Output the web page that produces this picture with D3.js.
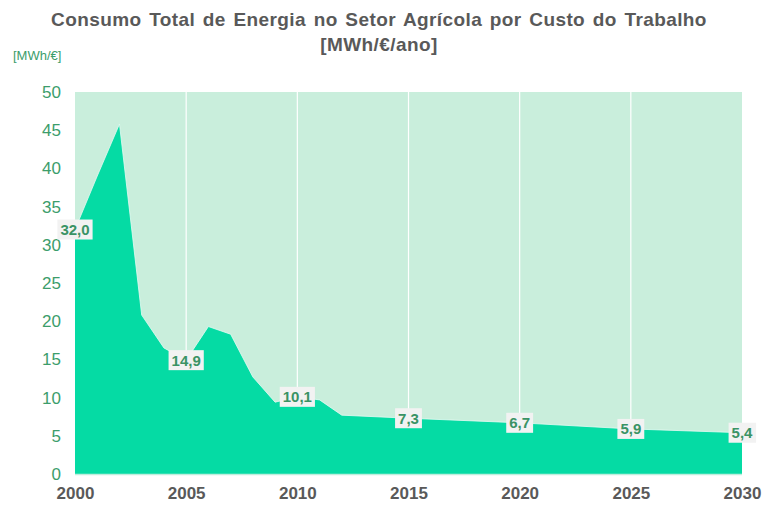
<!DOCTYPE html>
<html>
<head>
<meta charset="utf-8">
<script src="https://cdn.jsdelivr.net/npm/d3@7"></script>
<style>
  body { margin: 0; background: #fff; }
  svg { display: block; font-family: "Liberation Sans", Arial, sans-serif; }
</style>
</head>
<body>
<svg id="chart" width="767" height="505"></svg>
<script>
// Energy use per labour cost in agriculture, MWh/€/year
const years  = [2000, 2001, 2002, 2003, 2004, 2005, 2006, 2007, 2008, 2009, 2010, 2011, 2012, 2015, 2020, 2025, 2030];
const values = [32.0, 39.0, 45.8, 20.8, 16.5, 14.9, 19.3, 18.3, 12.7, 9.4, 10.1, 9.7, 7.7, 7.3, 6.7, 5.9, 5.4];

// Years carrying a value label
const labelYears = [2000, 2005, 2010, 2015, 2020, 2025, 2030];

const xTicks = [2000, 2005, 2010, 2015, 2020, 2025, 2030];
const yTicks = [0, 5, 10, 15, 20, 25, 30, 35, 40, 45, 50];

const titleLines = ["Consumo Total de Energia no Setor Agrícola por Custo do Trabalho", "[MWh/€/ano]"];
const unitLabel = "[MWh/€]";

const svg = d3.select("#chart");
const margin = { left: 75, right: 25, top: 92, bottom: 31 };
const W = 767, H = 505;

const x = d3.scaleLinear().domain([2000, 2030]).range([margin.left, W - margin.right]);
const y = d3.scaleLinear().domain([0, 50]).range([H - margin.bottom, margin.top]);

const fmt = v => v.toFixed(1).replace(".", ",");
const data = years.map((yr, i) => ({ yr, v: values[i] }));

// plot background
svg.append("rect")
  .attr("x", x(2000)).attr("y", y(50))
  .attr("width", x(2030) - x(2000)).attr("height", y(0) - y(50))
  .attr("fill", "#c9eedc");

// vertical gridlines
svg.append("g").selectAll("line")
  .data(xTicks.slice(1, -1))
  .join("line")
  .attr("x1", d => x(d)).attr("x2", d => x(d))
  .attr("y1", y(50)).attr("y2", y(0))
  .attr("stroke", "#ffffff").attr("stroke-width", 1.2);

// area
const area = d3.area().x(d => x(d.yr)).y0(y(0)).y1(d => y(d.v));
svg.append("path").datum(data)
  .attr("d", area)
  .attr("fill", "#05dba4");
svg.append("path").datum(data)
  .attr("d", d3.line().x(d => x(d.yr)).y(d => y(d.v)))
  .attr("fill", "none")
  .attr("stroke", "#e6faf2").attr("stroke-width", 1).attr("stroke-opacity", 0.8);

// baseline
svg.append("line")
  .attr("x1", x(2000)).attr("x2", x(2030))
  .attr("y1", y(0) + 0.5).attr("y2", y(0) + 0.5)
  .attr("stroke", "#bfeedd").attr("stroke-width", 1.5);

// y axis
const yAxis = svg.append("g")
  .attr("transform", `translate(${x(2000)},0)`)
  .call(d3.axisLeft(y).tickValues(yTicks).tickSize(0).tickPadding(14));
yAxis.select(".domain").remove();
yAxis.selectAll("text")
  .attr("fill", "#3c9d6b")
  .style("font-size", "17px")
  .style("font-family", "'Liberation Sans', Arial, sans-serif");

// x axis
const xAxis = svg.append("g")
  .attr("transform", `translate(0,${y(0)})`)
  .call(d3.axisBottom(x).tickValues(xTicks).tickFormat(d3.format("d")).tickSize(0).tickPadding(13));
xAxis.select(".domain").remove();
xAxis.selectAll("text")
  .attr("fill", "#595959")
  .style("font-size", "17px")
  .style("font-weight", "bold")
  .style("font-family", "'Liberation Sans', Arial, sans-serif");

// value labels
const lbl = svg.append("g").selectAll("g")
  .data(data.filter(d => labelYears.includes(d.yr)))
  .join("g")
  .attr("transform", d => `translate(${x(d.yr)},${y(d.v)})`);
lbl.append("text")
  .attr("text-anchor", "middle")
  .attr("dy", "0.36em")
  .attr("fill", "#3a9365")
  .style("font-size", "15px")
  .style("font-weight", "bold")
  .text(d => fmt(d.v));
lbl.each(function() {
  const g = d3.select(this);
  const b = g.select("text").node().getBBox();
  g.insert("rect", "text")
    .attr("x", b.x - 3).attr("y", -10)
    .attr("width", b.width + 6).attr("height", 20)
    .attr("fill", "#f2f2f2");
});

// title
svg.append("text")
  .attr("text-anchor", "middle")
  .attr("fill", "#595959")
  .style("font-size", "19px")
  .style("font-weight", "bold")
  .selectAll("tspan")
  .data(titleLines)
  .join("tspan")
  .attr("x", 379)
  .attr("y", (d, i) => 26 + i * 25)
  .style("word-spacing", "2px")
  .style("letter-spacing", "0.4px")
  .text(d => d);

// unit
svg.append("text")
  .attr("x", 13).attr("y", 60)
  .attr("fill", "#3c9d6b")
  .style("font-size", "13px")
  .text(unitLabel);
</script>
</body>
</html>
